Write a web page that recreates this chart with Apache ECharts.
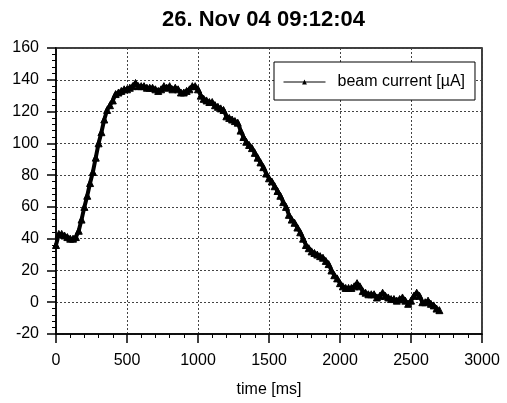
<!DOCTYPE html>
<html>
<head>
<meta charset="utf-8">
<script src="https://cdn.jsdelivr.net/npm/echarts@6/dist/echarts.min.js"></script>
<style>html,body{margin:0;padding:0;background:#fff}#c{width:507px;height:403px}</style>
</head>
<body>
<div id="c"></div>
<script>
const titleText = '26. Nov 04 09:12:04';
const xName = 'time [ms]';
const seriesName = 'beam current [µA]';
const timeMs = [
  0,20,40,60,80,100,120,140,160,180,200,220,240,260,280,300,320,340,360,380,
  400,420,440,460,480,500,520,540,560,580,600,620,640,660,680,700,720,740,760,780,
  800,820,840,860,880,900,920,940,960,980,1000,1020,1040,1060,1080,1100,1120,1140,1160,1180,
  1200,1220,1240,1260,1280,1300,1320,1340,1360,1380,1400,1420,1440,1460,1480,1500,1520,1540,1560,1580,
  1600,1620,1640,1660,1680,1700,1720,1740,1760,1780,1800,1820,1840,1860,1880,1900,1920,1940,1960,1980,
  2000,2020,2040,2060,2080,2100,2120,2140,2160,2180,2200,2220,2240,2260,2280,2300,2320,2340,2360,2380,
  2400,2420,2440,2460,2480,2500,2520,2540,2560,2580,2600,2620,2640,2660,2680,2700
];
const beamCurrent = [
  36,43,43,42,41,40,40,41,45,52,60,67,75,82,91,100,107,115,121,124,
  127,131,132,133,134,134,135,136,138,136,136,136,135,135,135,134,133,134,136,135,
  136,134,135,134,132,132,133,134,136,136,134,130,128,127,126,126,124,123,122,121,
  117,116,115,114,113,108,104,101,99,97,94,91,88,85,81,78,76,73,70,67,
  63,60,55,52,50,47,44,40,36,34,32,31,30,29,28,26,24,20,17,15,
  12,10,9,9,9,10,12,10,7,6,5,5,5,3,4,6,4,3,2,2,
  1,2,3,1,-1,1,4,6,4,0,0,1,-1,-2,-4,-5
];
const xMin = 0, xMax = 3000, xStep = 500;
const yMin = -20, yMax = 160, yStep = 20;

const chart = echarts.init(document.getElementById('c'), null, {renderer: 'canvas'});
const font = 'Liberation Sans, Arial, sans-serif';
chart.setOption({
  animation: false,
  backgroundColor: '#fff',
  title: {
    text: titleText, left: 162, top: 9, padding: 0,
    textStyle: {fontFamily: font, fontSize: 22, fontWeight: 'bold', color: '#000'}
  },
  legend: {
    left: 274, top: 62, width: 203, height: 38,
    padding: [12, 10, 10, 9],
    backgroundColor: '#fff', borderColor: '#000', borderWidth: 1,
    itemWidth: 42, itemHeight: 6,
    lineStyle: {width: 1, color: '#000'},
    textStyle: {fontFamily: font, fontSize: 16, color: '#000', padding: [0, 0, 0, 7]},
    data: [seriesName]
  },
  grid: {left: 56, right: 25, top: 48, bottom: 69, show: true, borderColor: '#000', borderWidth: 1.5, backgroundColor: 'transparent'},
  xAxis: {
    type: 'value', min: xMin, max: xMax, interval: xStep,
    name: xName, nameLocation: 'middle', nameGap: 48,
    nameTextStyle: {fontFamily: font, fontSize: 16, color: '#000'},
    axisLine: {onZero: false, lineStyle: {color: '#000', width: 1.5}},
    axisTick: {show: true, inside: false, length: 9, lineStyle: {color: '#000', width: 1.5}},
    minorTick: {show: true, splitNumber: 5, length: 4, lineStyle: {color: '#000', width: 1}},
    axisLabel: {fontFamily: font, fontSize: 16, color: '#000', margin: 19, formatter: v => String(v)},
    splitLine: {show: true, lineStyle: {color: '#444', width: 1, type: [2, 2]}}
  },
  yAxis: {
    type: 'value', min: yMin, max: yMax, interval: yStep,
    axisLine: {show: true, lineStyle: {color: '#000', width: 1.5}},
    axisTick: {show: true, inside: false, length: 9, lineStyle: {color: '#000', width: 1.5}},
    minorTick: {show: true, splitNumber: 5, length: 4, lineStyle: {color: '#000', width: 1}},
    axisLabel: {fontFamily: font, fontSize: 16, color: '#000', margin: 17, formatter: v => String(v)},
    splitLine: {show: true, lineStyle: {color: '#444', width: 1, type: [2, 2]}}
  },
  series: [{
    name: seriesName, type: 'line',
    data: timeMs.map((t, i) => [t, beamCurrent[i]]),
    symbol: 'triangle', symbolSize: 7, showAllSymbol: true,
    itemStyle: {color: '#000', borderColor: '#000'},
    lineStyle: {color: '#000', width: 4},
    emphasis: {disabled: true}
  }]
});
</script>
</body>
</html>
